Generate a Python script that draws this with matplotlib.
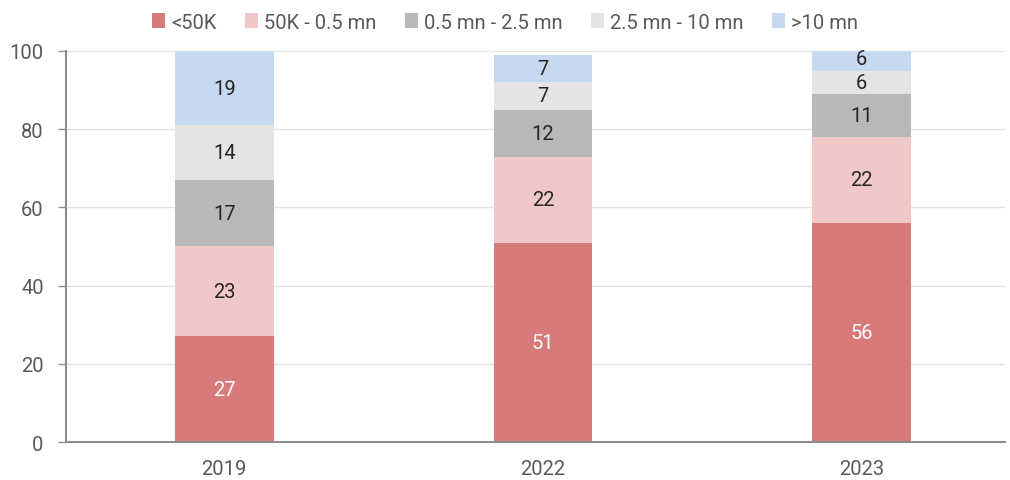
import numpy as np
import matplotlib.pyplot as plt
from matplotlib.patches import Patch

plt.rcParams['font.family'] = ['Roboto', 'DejaVu Sans']

# Share of firms by size band, per year
years = ['2019', '2022', '2023']
bands = ['<50K', '50K - 0.5 mn', '0.5 mn - 2.5 mn', '2.5 mn - 10 mn', '>10 mn']
values = [
    [27, 51, 56],   # <50K
    [23, 22, 22],   # 50K - 0.5 mn
    [17, 12, 11],   # 0.5 mn - 2.5 mn
    [14, 7, 6],     # 2.5 mn - 10 mn
    [19, 7, 6],     # >10 mn
]
colors = ['#D87A7A', '#F0C8C8', '#B8B8B8', '#E4E4E4', '#C6D9F1']
label_colors = ['white', '#262626', '#262626', '#262626', '#262626']

fs = 14.5

fig = plt.figure(figsize=(10.1, 4.81), dpi=100)
ax = fig.add_axes([0.0653, 0.079, 0.9297, 0.813])

x = np.arange(len(years))
bottom = np.zeros(len(years))
for vals, col, lc in zip(values, colors, label_colors):
    vals = np.array(vals, dtype=float)
    ax.bar(x, vals, 0.31, bottom=bottom, color=col, zorder=2)
    for xi, b, v in zip(x, bottom, vals):
        ax.text(xi, b + v / 2, f'{int(v)}', ha='center', va='center',
                fontsize=fs, color=lc, zorder=3)
    bottom += vals

ax.set_ylim(0, 100)
ax.set_xlim(-0.497, 2.45)
ax.set_yticks(range(0, 101, 20))
ax.set_xticks(x)
ax.set_xticklabels(years)
ax.yaxis.grid(True, color='#E3E3E3', linewidth=1, zorder=0)
ax.set_axisbelow(True)

for s in ['top', 'right']:
    ax.spines[s].set_visible(False)
for s in ['left', 'bottom']:
    ax.spines[s].set_color('#8C8C8C')
    ax.spines[s].set_linewidth(1.5)

ax.tick_params(axis='y', length=6, width=1, color='#8C8C8C', pad=10,
               labelsize=fs, labelcolor='#595959')
ax.tick_params(axis='x', length=0, pad=12, labelsize=fs, labelcolor='#595959')

handles = [Patch(facecolor=c, edgecolor='none') for c in colors]
fig.legend(handles, bands, loc='center', bbox_to_anchor=(0.5, 0.952), ncol=5,
           frameon=False, handlelength=0.65, handleheight=0.8,
           handletextpad=0.3, columnspacing=1.4, labelcolor='#595959',
           prop={'size': fs})

fig.savefig('out.png', dpi=100)
